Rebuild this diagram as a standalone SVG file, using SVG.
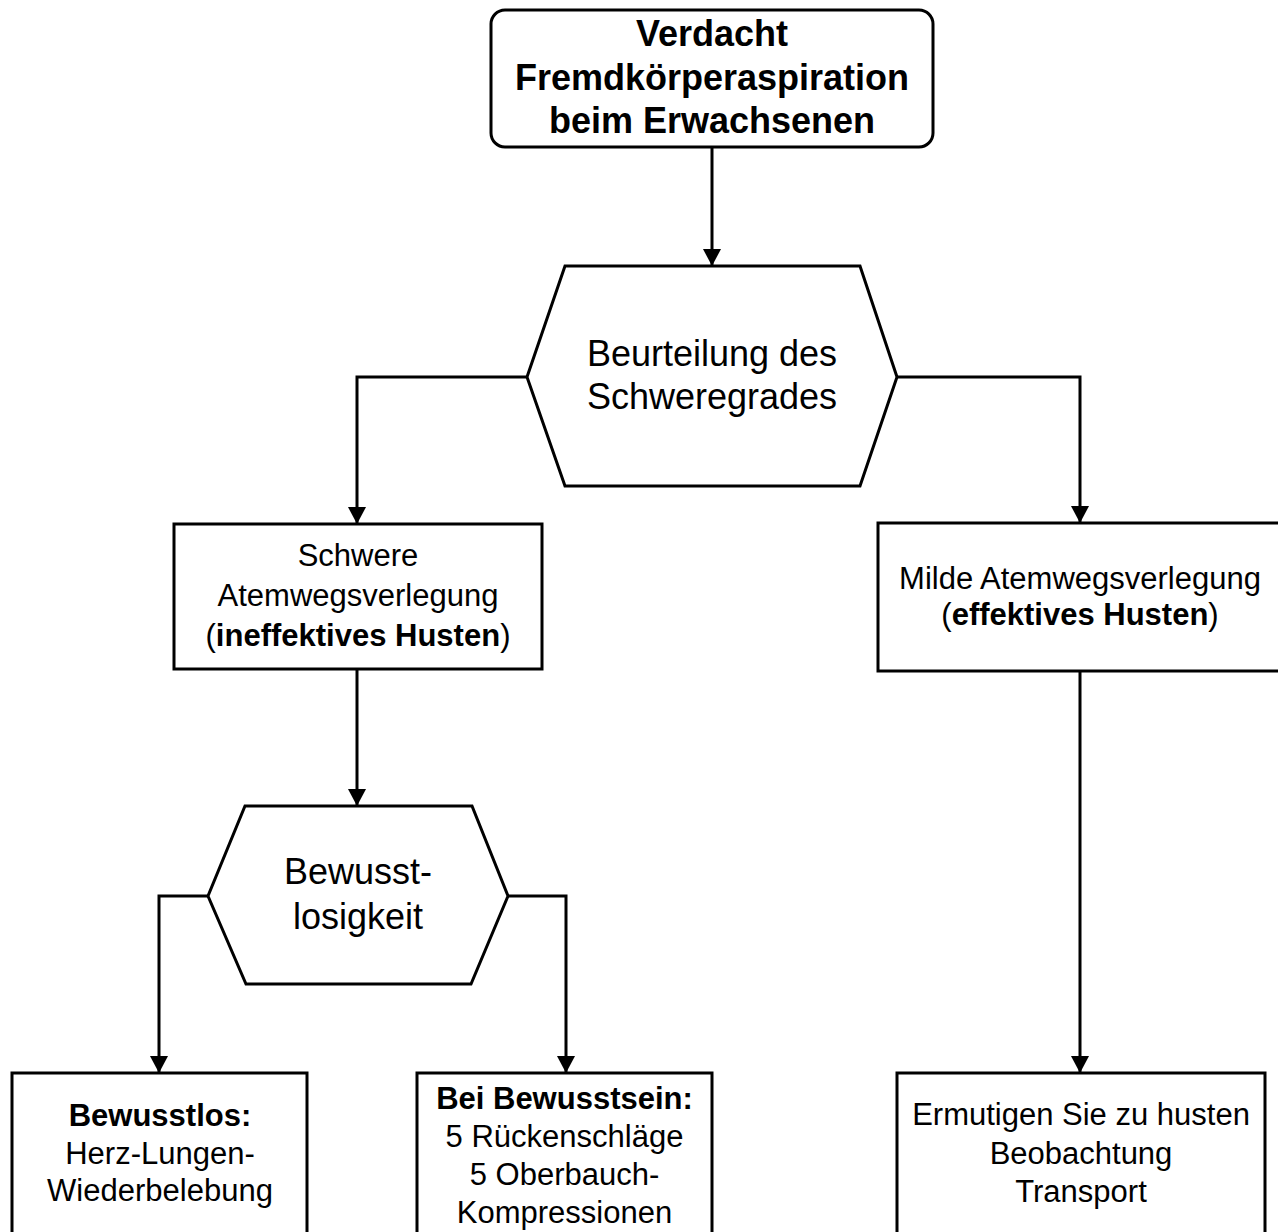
<svg xmlns="http://www.w3.org/2000/svg" width="1278" height="1232" viewBox="0 0 1278 1232">
<defs>
<style>
.shape{fill:#fff;stroke:#000;stroke-width:3}
.conn{fill:none;stroke:#000;stroke-width:3}
.t36{font-family:"Liberation Sans",Arial,sans-serif;font-size:36px;text-anchor:middle;fill:#000}
.t31{font-family:"Liberation Sans",Arial,sans-serif;font-size:31px;text-anchor:middle;fill:#000}
.b{font-weight:bold}
</style>
<marker id="arr" markerUnits="userSpaceOnUse" markerWidth="18" markerHeight="18" refX="17" refY="9" orient="auto">
<path d="M0,0 L17,9 L0,18 z" fill="#000"/>
</marker>
</defs>
<rect width="1278" height="1232" fill="#fff"/>
<g id="connectors">
<path class="conn" d="M712,147 V266" marker-end="url(#arr)"/>
<path class="conn" d="M527,377 H357 V524" marker-end="url(#arr)"/>
<path class="conn" d="M897,377 H1080 V523" marker-end="url(#arr)"/>
<path class="conn" d="M357,669 V806" marker-end="url(#arr)"/>
<path class="conn" d="M208,896 H159 V1073" marker-end="url(#arr)"/>
<path class="conn" d="M508,896 H566 V1073" marker-end="url(#arr)"/>
<path class="conn" d="M1080,671 V1073" marker-end="url(#arr)"/>
</g>
<g id="start">
<rect class="shape" x="491" y="10" width="442" height="137" rx="14"/>
<text class="t36 b" x="712" y="46">Verdacht</text>
<text class="t36 b" x="712" y="90">Fremdkörperaspiration</text>
<text class="t36 b" x="712" y="133">beim Erwachsenen</text>
</g>
<g id="assess">
<polygon class="shape" points="565,266 860,266 897,377 860,486 565,486 527,377"/>
<text class="t36" x="712" y="366">Beurteilung des</text>
<text class="t36" x="712" y="409">Schweregrades</text>
</g>
<g id="severe">
<rect class="shape" x="174" y="524" width="368" height="145"/>
<text class="t31" x="358" y="566">Schwere</text>
<text class="t31" x="358" y="606">Atemwegsverlegung</text>
<text class="t31" x="358" y="646">(<tspan class="b">ineffektives Husten</tspan>)</text>
</g>
<g id="mild">
<rect class="shape" x="878" y="523" width="420" height="148"/>
<text class="t31" x="1080" y="589">Milde Atemwegsverlegung</text>
<text class="t31" x="1080" y="625">(<tspan class="b">effektives Husten</tspan>)</text>
</g>
<g id="conscious">
<polygon class="shape" points="245,806 472,806 508,896 471,984 246,984 208,896"/>
<text class="t36" x="358" y="884">Bewusst-</text>
<text class="t36" x="358" y="929">losigkeit</text>
</g>
<g id="unconscious">
<rect class="shape" x="12" y="1073" width="295" height="200"/>
<text class="t31 b" x="160" y="1126">Bewusstlos:</text>
<text class="t31" x="160" y="1164">Herz-Lungen-</text>
<text class="t31" x="160" y="1201">Wiederbelebung</text>
</g>
<g id="awake">
<rect class="shape" x="417" y="1073" width="295" height="200"/>
<text class="t31 b" x="564.5" y="1109">Bei Bewusstsein:</text>
<text class="t31" x="564.5" y="1147">5 Rückenschläge</text>
<text class="t31" x="564.5" y="1185">5 Oberbauch-</text>
<text class="t31" x="564.5" y="1223">Kompressionen</text>
</g>
<g id="cough">
<rect class="shape" x="897" y="1073" width="368" height="200"/>
<text class="t31" x="1081" y="1125">Ermutigen Sie zu husten</text>
<text class="t31" x="1081" y="1164">Beobachtung</text>
<text class="t31" x="1081" y="1202">Transport</text>
</g>
</svg>
